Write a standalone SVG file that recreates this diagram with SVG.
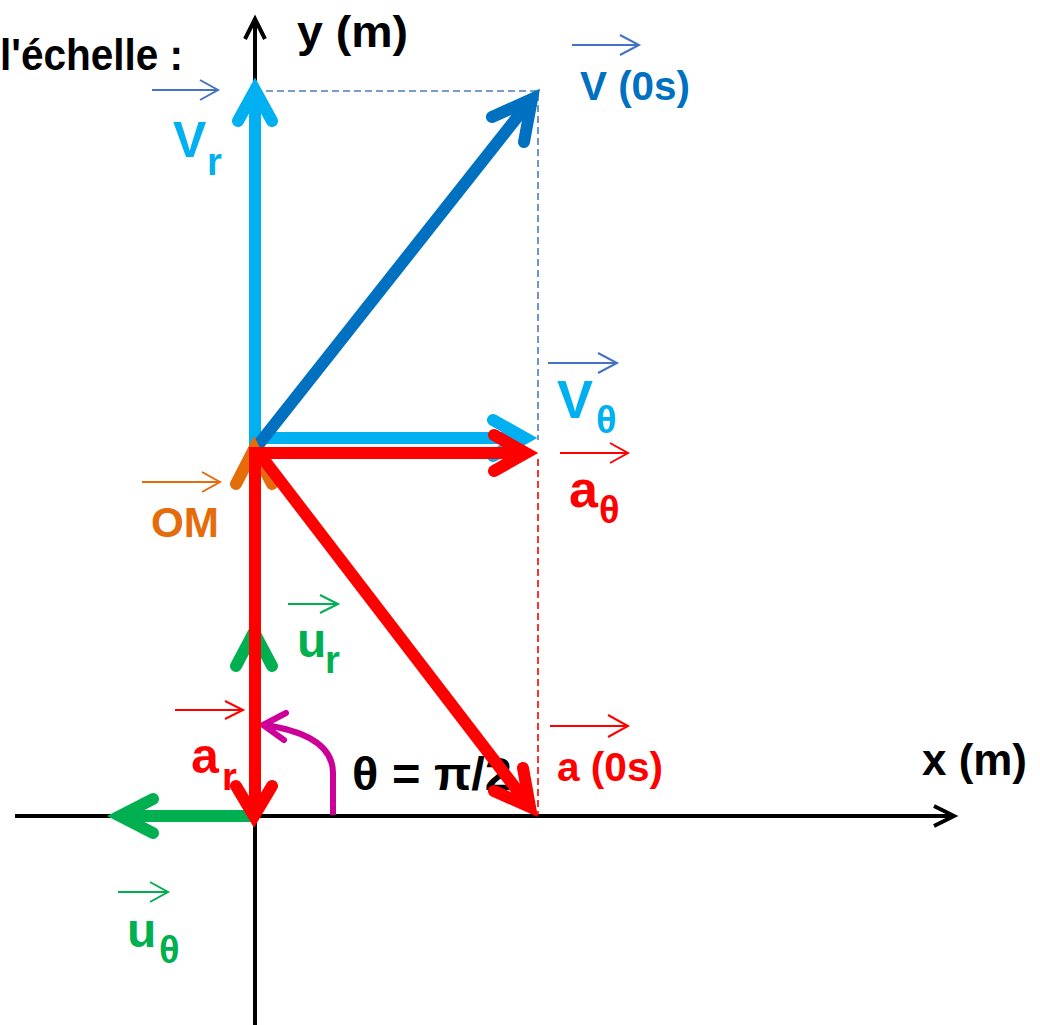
<svg xmlns="http://www.w3.org/2000/svg" width="1040" height="1025" viewBox="0 0 1040 1025">
<style>
text{font-family:"Liberation Sans",Arial,sans-serif;font-weight:bold}
.ax{stroke:#000;stroke-width:4;fill:none;stroke-linejoin:miter}
.vec{fill:none;stroke-width:12;stroke-linecap:butt}
.head{fill:none;stroke-width:12;stroke-linecap:round;stroke-linejoin:miter;stroke-miterlimit:10}
.lb{stroke:#00B0F0}
.db{stroke:#0070C0}
.rd{stroke:#FF0000}
.gr{stroke:#00B050}
.or{stroke:#E46C0A}
.ov{fill:none;stroke-width:2}
.dash{fill:none;stroke-width:1.6;stroke-dasharray:7 4}
</style>
<rect width="1040" height="1025" fill="#fff"/>
<g id="label-theta"><text x="352" y="790" font-size="46" fill="#000" textLength="160" lengthAdjust="spacingAndGlyphs">θ = π/2</text></g>
<g id="connectors">
  <g id="axes">
    <path class="ax" d="M255,1025 V21"/>
    <path class="ax" d="M245,39 L255,19 L265,39"/>
    <path class="ax" d="M15,816 H952"/>
    <path class="ax" d="M934,806 L954,816 L934,826"/>
  </g>
  <g id="guides">
    <path class="dash" stroke="#4A7EBB" d="M255,91 H538 V440"/>
    <path class="dash" stroke="#FF0000" stroke-dasharray="8 3" d="M538,459 V815"/>
  </g>
  <g id="vec-Vr">
    <path class="vec lb" d="M255,449 V92"/>
    <path class="head lb" d="M238,121 L255,90 L272,121"/>
  </g>
  <g id="vec-Vtheta">
    <path class="vec lb" d="M255,438 H522"/>
    <path class="head lb" d="M493,420 L525,438 L493,456"/>
  </g>
  <g id="vec-V">
    <path class="vec db" d="M255,449 L530,101"/>
    <path class="head db" d="M492,117 L532,99 L524,142"/>
  </g>
  <g id="vec-OM">
    <path class="head or" d="M236,484 L254,449 L272,484"/>
  </g>
  <g id="vec-ur">
    <path class="head gr" d="M236,666 L254,632 L272,666"/>
  </g>
  <g id="vec-utheta">
    <path class="vec gr" d="M255,816 H124"/>
    <path class="head gr" d="M153,799 L120,816 L153,833"/>
  </g>
  <g id="angle-theta">
    <path fill="none" stroke="#CC0099" stroke-width="6" d="M333,815 V773 C333,745 305,731 265,725"/>
    <path fill="none" stroke="#CC0099" stroke-width="6" stroke-linecap="round" d="M286,713 L263,725 L284,740"/>
  </g>
  <g id="vec-atheta">
    <path class="vec rd" d="M255,453 H522"/>
    <path class="head rd" d="M494,435 L526,453 L494,471"/>
  </g>
  <g id="vec-ar">
    <path class="vec rd" d="M255,447 V812"/>
    <path class="head rd" d="M236,786 L254,816 L272,786"/>
  </g>
  <g id="vec-a">
    <path class="vec rd" d="M258,452 L527,803"/>
    <path class="head rd" d="M494,791 L530,807 L523,768"/>
  </g>
</g>
<g id="label-echelle"><text x="0" y="70" font-size="44" fill="#000" textLength="183" lengthAdjust="spacingAndGlyphs">l'échelle :</text></g>
<g id="label-y"><text x="297" y="47" font-size="44" fill="#000" textLength="111" lengthAdjust="spacingAndGlyphs">y (m)</text></g>
<g id="label-x"><text x="922" y="775" font-size="44" fill="#000" textLength="105" lengthAdjust="spacingAndGlyphs">x (m)</text></g>
<g id="label-V0s">
  <path class="ov" stroke="#4472C4" d="M572,45 H639 M620,35 L639,45 L620,55"/>
  <text x="580" y="100" font-size="40" fill="#0070C0" textLength="110" lengthAdjust="spacingAndGlyphs">V (0s)</text>
</g>
<g id="label-Vr">
  <path class="ov" stroke="#4472C4" d="M152,90 H218 M200,80 L218,90 L200,100"/>
  <text x="173" y="157" font-size="50" fill="#00B0F0">V</text>
  <text x="207" y="175" font-size="38" fill="#00B0F0">r</text>
</g>
<g id="label-Vtheta">
  <path class="ov" stroke="#4472C4" d="M548,363 H617 M598,353 L617,363 L598,373"/>
  <text x="557" y="418" font-size="54" fill="#00B0F0">V</text>
  <text x="596" y="433" font-size="38" fill="#00B0F0">θ</text>
</g>
<g id="label-atheta">
  <path class="ov" stroke="#FF0000" d="M560,453 H628 M610,443 L628,453 L610,463"/>
  <text x="569" y="507" font-size="52" fill="#FF0000">a</text>
  <text x="599" y="523" font-size="38" fill="#FF0000">θ</text>
</g>
<g id="label-OM">
  <path class="ov" stroke="#E46C0A" d="M142,482 H220 M202,472 L220,482 L202,492"/>
  <text x="151" y="537" font-size="42" fill="#E46C0A" textLength="68" lengthAdjust="spacingAndGlyphs">OM</text>
</g>
<g id="label-ur">
  <path class="ov" stroke="#00B050" d="M288,604 H338 M320,595 L338,604 L320,613"/>
  <text x="297" y="657" font-size="48" fill="#00B050">u</text>
  <text x="325" y="673" font-size="38" fill="#00B050">r</text>
</g>
<g id="label-ar">
  <path class="ov" stroke="#FF0000" d="M175,710 H243 M225,701 L243,710 L225,719"/>
  <text x="191" y="773" font-size="50" fill="#FF0000">a</text>
  <text x="222" y="790" font-size="38" fill="#FF0000">r</text>
</g>
<g id="label-a0s">
  <path class="ov" stroke="#FF0000" d="M550,726 H628 M608,715 L628,726 L608,737"/>
  <text x="557" y="781" font-size="40" fill="#FF0000" textLength="106" lengthAdjust="spacingAndGlyphs">a (0s)</text>
</g>
<g id="label-utheta">
  <path class="ov" stroke="#00B050" d="M118,892 H168 M150,882 L168,892 L150,902"/>
  <text x="127" y="947" font-size="48" fill="#00B050">u</text>
  <text x="159" y="963" font-size="38" fill="#00B050">θ</text>
</g>
</svg>
